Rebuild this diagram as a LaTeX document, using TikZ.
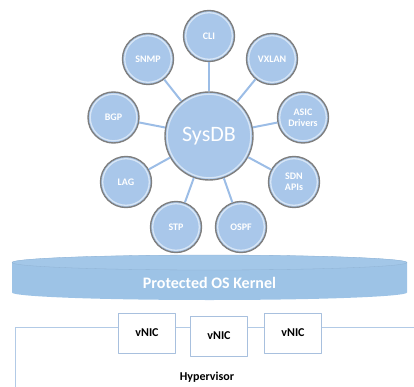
\documentclass[tikz,border=0pt]{standalone}
\usepackage{fontspec}
\setmainfont{Carlito}
\definecolor{bubble}{HTML}{A9C7EA}
\definecolor{rim}{HTML}{7F7F7F}
\definecolor{wire}{HTML}{9CBDE6}
\definecolor{kernelbody}{HTML}{9DC3E6}
\definecolor{kerneltop}{HTML}{A3C7E8}
\definecolor{nicedge}{HTML}{A8C0DE}
\definecolor{frameline}{HTML}{B2CAE6}
\begin{document}
\begin{tikzpicture}
[x=1pt,y=-1pt,line join=round,%
  every node/.style={font=\bfseries\fontsize{10}{11}\selectfont,text=white,align=center},%
  svc/.style={circle,minimum size=51pt,inner sep=0pt,fill=bubble,draw=rim,line width=1.4pt,%
    path picture={\draw[white!55!bubble,line width=1.3pt] (path picture bounding box.center) circle[radius=#1];}},%
  svc/.default=23.3,%
  link/.style={draw=wire,line width=2pt},%
  nic/.style={draw=nicedge,fill=white,line width=0.8pt,minimum width=57pt,minimum height=40pt,inner sep=0pt,text=black,font=\bfseries\fontsize{12}{13}\selectfont},%
  hvline/.style={draw=frameline,line width=1pt}]
\useasboundingbox (0,0) rectangle (414,387);
% kernel
\fill[kernelbody] (12,262.5) -- (12,292.5) arc (180:0:197.5 and 7.5) -- (407,262.5) arc (0:-180:197.5 and 7.5) -- cycle;
\draw[fill=kerneltop,draw=kernelbody!92!black,line width=0.3pt] (209.5,262.5) ellipse (197.5 and 7.5);
\node[font=\bfseries\fontsize{16}{18}\selectfont] (kernel) at (209.5,283) {Protected OS Kernel};
% services
\node[svc=41.8,minimum size=88pt,font=\fontsize{22}{24}\selectfont] (sysdb) at (209,136) {SysDB};
\node[svc] (cli) at (209,36) {CLI};
\node[svc] (vxlan) at (272,59) {VXLAN};
\node[svc] (asic) at (303,117.5) {ASIC\\Drivers};
\node[svc] (sdn) at (294,182) {SDN\\APIs};
\node[svc] (ospf) at (241,227) {OSPF};
\node[svc] (stp) at (176,227) {STP};
\node[svc] (lag) at (126,182) {LAG};
\node[svc] (bgp) at (113.5,117.5) {BGP};
\node[svc] (snmp) at (148,59) {SNMP};
\foreach \s in {cli,vxlan,asic,sdn,ospf,stp,lag,bgp,snmp}
  \draw[link] (sysdb) -- (\s);
% hypervisor
\coordinate (hvtl) at (15,327);
\coordinate (hvbl) at (15,387);
\coordinate (hvtr) at (414,327);
\node[nic] (nicA) at (147,333) {vNIC};
\node[nic] (nicB) at (219,336) {vNIC};
\node[nic] (nicC) at (293,333) {vNIC};
\draw[hvline] (hvbl) -- (hvtl) -- (hvtl -| nicA.west);
\draw[hvline] (nicA.east |- hvtl) -- (nicB.west |- hvtl);
\draw[hvline] (nicB.east |- hvtl) -- (nicC.west |- hvtl);
\draw[hvline] (nicC.east |- hvtl) -- (hvtr);
\node[text=black,font=\bfseries\fontsize{12}{14}\selectfont] (hyp) at (207,377) {Hypervisor};
\end{tikzpicture}
\end{document}
